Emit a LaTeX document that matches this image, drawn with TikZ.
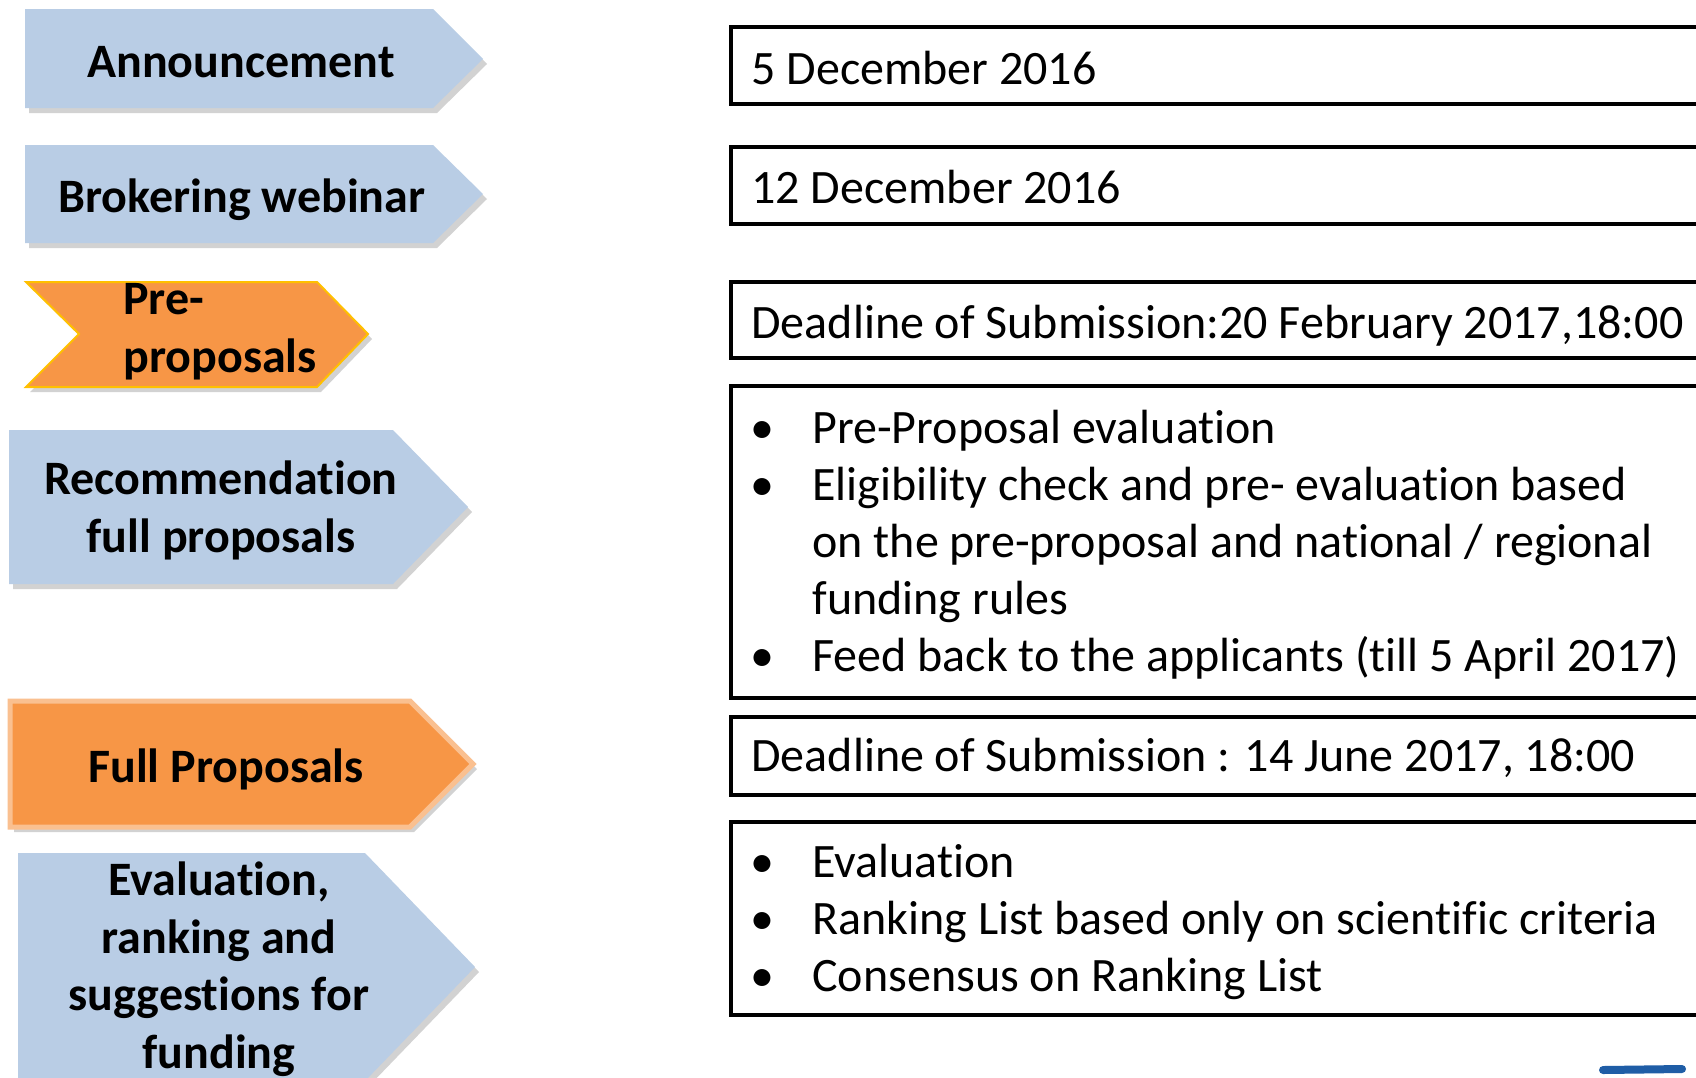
\documentclass[tikz,border=0pt]{standalone}
\usepackage{fontspec}
\setmainfont[Ligatures=NoCommon]{Carlito}
\usetikzlibrary{shadows}

\definecolor{stepblue}{HTML}{B9CDE5}
\definecolor{steporange}{HTML}{F79646}
\definecolor{goldedge}{HTML}{FFC000}
\definecolor{peachedge}{HTML}{FAC090}
\definecolor{markblue}{HTML}{1F5DA6}

\begin{document}
\begin{tikzpicture}[x=0.5pt, y=-0.5pt,
  every node/.style={inner sep=0pt, font=\fontsize{24}{28.7}\selectfont},
  phase/.style={font=\fontsize{24}{28.7}\selectfont\bfseries, align=center, anchor=base},
  stepshadow/.style={drop shadow={shadow xshift=2pt, shadow yshift=-2.5pt, fill=black!50, opacity=0.35}},
  bluestep/.style={fill=stepblue, stepshadow},
  orangestep/.style={fill=steporange, stepshadow},
  datebox/.style={draw=black, line width=2pt},
  entry/.style={anchor=base west},
  bulletmark/.style={anchor=base}
]
\fill[white] (0,0) rectangle (1696,1077);
\clip (0,0) rectangle (1696,1077);

% arrows on the left
\path[bluestep] (25,9) -- (433,9) -- (483,59) -- (433,108) -- (25,108) -- cycle;
\path[bluestep] (25,145) -- (433,145) -- (483,194) -- (433,243) -- (25,243) -- cycle;
\path[orangestep, draw=goldedge, line width=1pt]
  (26,282) -- (317,282) -- (368,334) -- (317,387) -- (26,387) -- (79,334) -- cycle;
\path[bluestep] (9,430) -- (393,430) -- (468,507) -- (393,584) -- (9,584) -- cycle;
\path[orangestep, draw=peachedge, line width=2.5pt]
  (10,701) -- (410,701) -- (473,764) -- (410,827) -- (10,827) -- cycle;
\path[bluestep] (18,853) -- (365,853) -- (475,967) -- (365,1081) -- (18,1081) -- cycle;

% multi-line labels sit on their last baseline
\node[phase] (announce) at (241,77) {Announcement};
\node[phase] (webinar) at (242,212) {Brokering webinar};
\node[phase, anchor=base west, align=left] (pre) at (123,372) {Pre-\\proposals};
\node[phase] (recommend) at (221,552) {Recommendation\\full proposals};
\node[phase] (full) at (226,782) {Full Proposals};
\node[phase] (evaluate) at (219,1068) {Evaluation,\\ranking and\\suggestions for\\funding};

% boxes on the right
\draw[datebox] (731,27) rectangle (1720,104);
\draw[datebox] (731,147) rectangle (1720,224);
\draw[datebox] (731,282) rectangle (1720,358);
\draw[datebox] (731,386) rectangle (1720,698);
\draw[datebox] (731,717) rectangle (1720,795);
\draw[datebox] (731,822) rectangle (1720,1015);

\node[entry] (date1) at (751,84) {5 December 2016};
\node[entry] (date2) at (751,203) {12 December 2016};
\node[entry] (date3) at (751,338) {Deadline of Submission:20 February 2017,18:00};
\node[entry] (date4) at (751,771) {Deadline of Submission : 14 June 2017, 18:00};

\foreach \y/\t in {443/Pre-Proposal evaluation, 500/Eligibility check and pre- evaluation based,
  671/Feed back to the applicants (till 5 April 2017), 877/Evaluation,
  934/Ranking List based only on scientific criteria, 991/Consensus on Ranking List}{
  \node[bulletmark] (b\y) at (762,\y) {•};
  \node[entry] (t\y) at (812,\y) {\t};
}
\node[entry] (t557) at (812,557) {on the pre-proposal and national / regional};
\node[entry] (t614) at (812,614) {funding rules};

\draw[markblue, line width=4pt, line cap=round] (1603,1070) -- (1682,1069);
\end{tikzpicture}
\end{document}
